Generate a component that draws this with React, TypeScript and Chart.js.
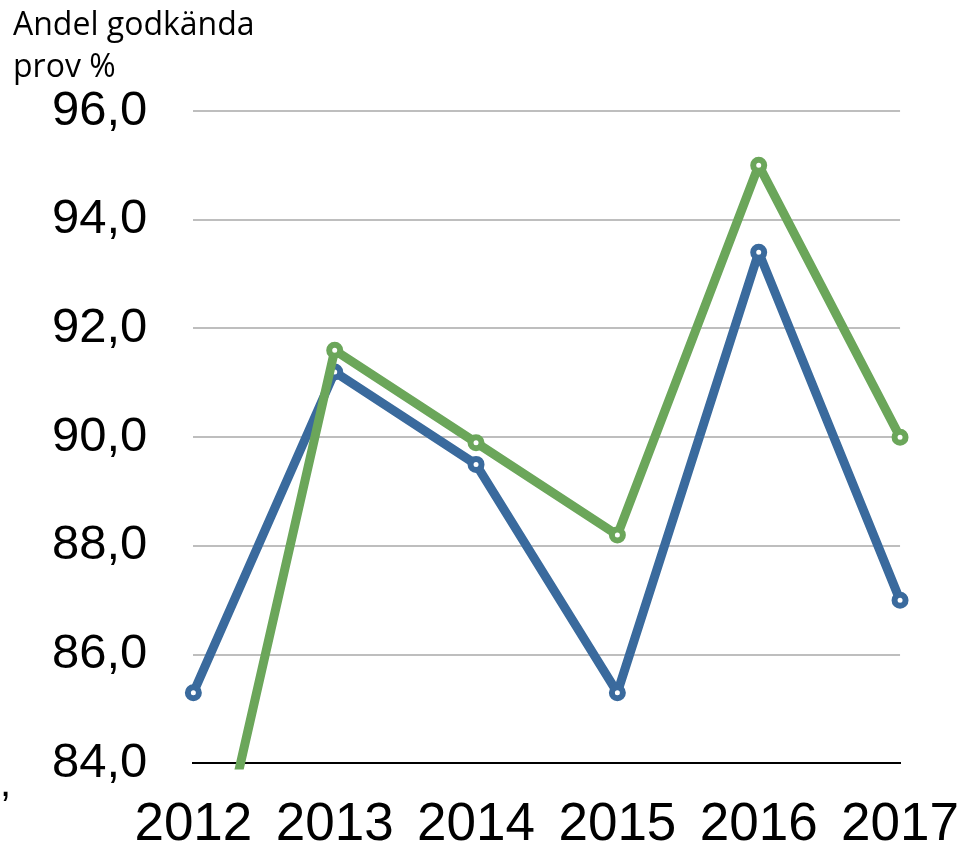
import React, { useEffect, useRef } from "react";
import { Chart, registerables } from "chart.js";

Chart.register(...registerables);

const years = ["2012", "2013", "2014", "2015", "2016", "2017"];
const seriesBlue = [85.3, 91.2, 89.5, 85.3, 93.4, 87.0];
const seriesGreen = [80.2, 91.6, 89.9, 88.2, 95.0, 90.0];
const yMin = 84;
const yMax = 96;
const yStep = 2;
const titleLines = ["Andel godkända", "prov %"];

const BLUE = "#3A6A9D";
const GREEN = "#6BA65A";

const lineStyle = (color: string) => ({
  borderColor: color,
  backgroundColor: "#ffffff",
  borderWidth: 9,
  borderJoinStyle: "round" as const,
  borderCapStyle: "round" as const,
  pointRadius: 5.5,
  pointBorderWidth: 6,
  pointBorderColor: color,
  pointBackgroundColor: "#ffffff",
  tension: 0,
});

export default function App() {
  const ref = useRef<HTMLCanvasElement>(null);
  useEffect(() => {
    if (!ref.current) return;
    const chart = new Chart(ref.current, {
      type: "line",
      data: {
        labels: years,
        datasets: [
          { data: seriesGreen, ...lineStyle(GREEN), clip: { left: 20, top: 20, right: 20, bottom: 6 } as any },
          { data: seriesBlue, ...lineStyle(BLUE), clip: 20 as any },
        ],
      },
      options: {
        animation: false,
        responsive: false,
        layout: { padding: { top: 111, right: 60, left: 6, bottom: 0 } },
        plugins: { legend: { display: false }, tooltip: { enabled: false }, title: { display: false } },
        scales: {
          x: {
            offset: false,
            grid: { display: false, drawTicks: false },
            border: { display: true, color: "#000000", width: 2 },
            ticks: {
              color: "#000000",
              font: { family: "Liberation Sans, Arial, sans-serif", size: 53 },
              padding: 30,
              maxRotation: 0,
              autoSkip: false,
            },
          },
          y: {
            min: yMin,
            max: yMax,
            grid: {
              color: (ctx: any) => (ctx.tick && ctx.tick.value === yMin ? "rgba(0,0,0,0)" : "#BEBEBE"),
              lineWidth: 2,
              drawTicks: false,
            },
            border: { display: false },
            ticks: {
              stepSize: yStep,
              color: "#000000",
              font: { family: "Liberation Sans, Arial, sans-serif", size: 49 },
              padding: 46,
              callback: (v: any) => Number(v).toFixed(1).replace(".", ","),
            },
          },
        },
      },
    });
    return () => chart.destroy();
  }, []);
  return (
    <div
      style={{
        position: "fixed",
        left: 0,
        top: 0,
        width: 963,
        height: 844,
        overflow: "hidden",
        background: "#fff",
      }}
    >
      <canvas ref={ref} width={989} height={887} style={{ position: "absolute", left: 0, top: 0 }} />
      <div
        style={{
          position: "absolute",
          left: 13,
          top: 2,
          fontFamily: "'Open Sans', Lato, sans-serif",
          fontSize: 32,
          lineHeight: "42px",
          color: "#000",
        }}
      >
        {titleLines.map((l) => (
          <div key={l}>{l}</div>
        ))}
      </div>
      <div
        style={{
          position: "absolute",
          left: 0,
          top: 760,
          fontFamily: "Liberation Sans, Arial, sans-serif",
          fontSize: 40,
          color: "#000",
        }}
      >
        ,
      </div>
    </div>
  );
}
